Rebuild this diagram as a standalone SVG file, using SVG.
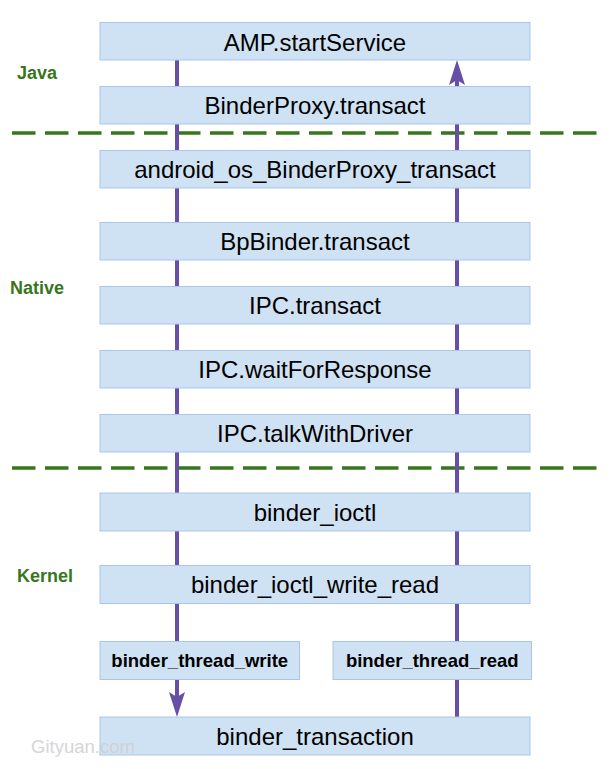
<svg xmlns="http://www.w3.org/2000/svg" width="615" height="769" viewBox="0 0 615 769">
  <style>
    .box { fill: #cfe2f3; stroke: #a9c6ea; stroke-width: 1; }
    .t { font-family: "Liberation Sans", Arial, sans-serif; font-size: 24px; fill: #000; text-anchor: middle; }
    .tb { font-family: "Liberation Sans", Arial, sans-serif; font-size: 18.5px; font-weight: bold; fill: #000; text-anchor: middle; }
    .lbl { font-family: "Liberation Sans", Arial, sans-serif; font-size: 18px; font-weight: bold; fill: #38761d; }
    .sep { stroke: #38761d; stroke-width: 3.5; stroke-dasharray: 23.5 9.5; fill: none; }
    .flow { stroke: #674ea7; stroke-width: 4; fill: none; }
    .wm { font-family: "Liberation Sans", Arial, sans-serif; font-size: 18.5px; fill: #cfcfcf; opacity: 0.85; }
  </style>
  <defs>
    <marker id="arrow" viewBox="0 0 25 16" refX="5" refY="8" markerWidth="25" markerHeight="16" markerUnits="userSpaceOnUse" orient="auto">
      <path d="M0,0 L25,8 L0,16 L5,8 Z" fill="#674ea7"/>
    </marker>
  </defs>

  <g id="layers">
    <line class="sep" x1="12" y1="133" x2="606" y2="133"/>
    <line class="sep" x1="12" y1="468" x2="606" y2="468"/>
    <text class="lbl" x="17" y="79">Java</text>
    <text class="lbl" x="10" y="294">Native</text>
    <text class="lbl" x="17" y="582">Kernel</text>
  </g>

  <g id="connectors">
    <line class="flow" x1="177" y1="60" x2="177" y2="697" marker-end="url(#arrow)"/>
    <line class="flow" x1="457" y1="717" x2="457" y2="80" marker-end="url(#arrow)"/>
  </g>

  <g id="n-amp">
    <rect class="box" x="100" y="22.5" width="430" height="37.5"/>
    <text class="t" x="315" y="50.5">AMP.startService</text>
  </g>
  <g id="n-binderproxy">
    <rect class="box" x="100" y="86.5" width="430" height="37.5"/>
    <text class="t" x="315" y="114">BinderProxy.transact</text>
  </g>
  <g id="n-android-os">
    <rect class="box" x="100" y="150.5" width="430" height="37.5"/>
    <text class="t" x="315" y="178">android_os_BinderProxy_transact</text>
  </g>
  <g id="n-bpbinder">
    <rect class="box" x="100" y="222.5" width="430" height="37.5"/>
    <text class="t" x="315" y="250">BpBinder.transact</text>
  </g>
  <g id="n-ipc-transact">
    <rect class="box" x="100" y="286.5" width="430" height="37.5"/>
    <text class="t" x="315" y="314">IPC.transact</text>
  </g>
  <g id="n-ipc-wait">
    <rect class="box" x="100" y="350.5" width="430" height="37.5"/>
    <text class="t" x="315" y="378">IPC.waitForResponse</text>
  </g>
  <g id="n-ipc-talk">
    <rect class="box" x="100" y="414.5" width="430" height="37.5"/>
    <text class="t" x="315" y="442">IPC.talkWithDriver</text>
  </g>
  <g id="n-binder-ioctl">
    <rect class="box" x="100" y="493" width="430" height="38"/>
    <text class="t" x="315" y="520.5">binder_ioctl</text>
  </g>
  <g id="n-binder-ioctl-wr">
    <rect class="box" x="100" y="565.5" width="430" height="38"/>
    <text class="t" x="315" y="593">binder_ioctl_write_read</text>
  </g>
  <g id="n-thread-write">
    <rect class="box" x="100" y="641.5" width="199.5" height="38"/>
    <text class="tb" x="199.75" y="667">binder_thread_write</text>
  </g>
  <g id="n-thread-read">
    <rect class="box" x="333" y="641.5" width="198.5" height="38"/>
    <text class="tb" x="432.25" y="667">binder_thread_read</text>
  </g>
  <g id="n-binder-transaction">
    <rect class="box" x="100" y="717" width="430" height="38"/>
    <text class="t" x="315" y="744.5">binder_transaction</text>
  </g>

  <text class="wm" x="31" y="753">Gityuan.com</text>
</svg>
